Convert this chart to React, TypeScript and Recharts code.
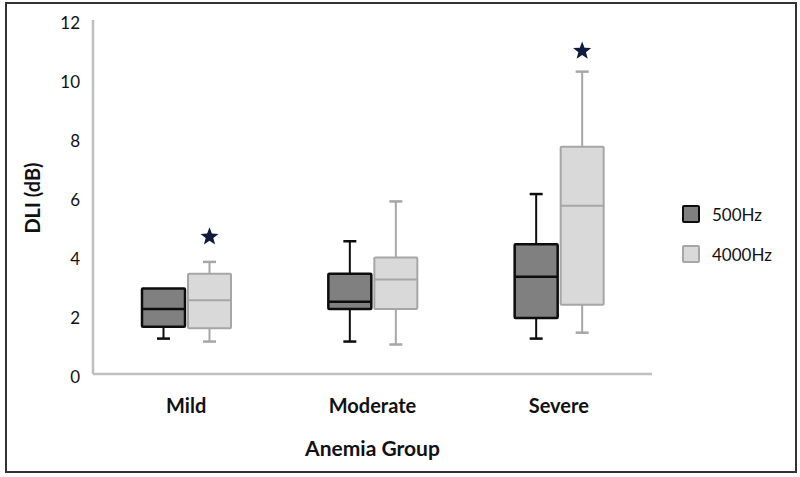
import React from 'react';
import { ComposedChart, Bar, XAxis, YAxis, Legend } from 'recharts';

const categories = ['Mild', 'Moderate', 'Severe'];
const seriesNames = ['500Hz', '4000Hz'];
const min500 = [1.2, 1.1, 1.2];
const q1500 = [1.6, 2.2, 1.9];
const median500 = [2.2, 2.45, 3.3];
const q3500 = [2.9, 3.4, 4.4];
const max500 = [2.9, 4.5, 6.1];
const min4000 = [1.1, 1.0, 1.4];
const q14000 = [1.55, 2.2, 2.35];
const median4000 = [2.5, 3.2, 5.7];
const q34000 = [3.4, 3.95, 7.7];
const max4000 = [3.8, 5.85, 10.25];
const star4000: (number | null)[] = [4.65, null, 10.95];
const yTicks = [0, 2, 4, 6, 8, 10, 12];

const data = categories.map((name, i) => ({
  name,
  range500: [min500[i], max500[i]],
  range4000: [min4000[i], max4000[i]],
  s500: { min: min500[i], q1: q1500[i], med: median500[i], q3: q3500[i], max: max500[i], star: null },
  s4000: { min: min4000[i], q1: q14000[i], med: median4000[i], q3: q34000[i], max: max4000[i], star: star4000[i] },
}));

const FONT = 'Lato, "Open Sans", sans-serif';

const styles: Record<string, { fill: string; stroke: string; line: string; boxW: number }> = {
  '500Hz': { fill: '#808080', stroke: '#0d0d0d', line: '#0d0d0d', boxW: 2.5 },
  '4000Hz': { fill: '#d9d9d9', stroke: '#a6a6a6', line: '#a6a6a6', boxW: 2 },
};

function starPoints(cx: number, cy: number, ro: number, ri: number) {
  const pts: string[] = [];
  for (let k = 0; k < 10; k++) {
    const r = k % 2 === 0 ? ro : ri;
    const a = -Math.PI / 2 + (k * Math.PI) / 5;
    pts.push(`${cx + r * Math.cos(a)},${cy + r * Math.sin(a)}`);
  }
  return pts.join(' ');
}

const makeBox = (statKey: 's500' | 's4000', seriesName: string) => (props: any) => {
  const { x, y, width, height, payload } = props;
  const s = payload[statKey];
  const st = styles[seriesName];
  const top = Math.min(y, y + height);
  const bot = Math.max(y, y + height);
  const span = s.max - s.min;
  const py = (v: number) => bot - ((v - s.min) / span) * (bot - top);
  const cx = x + width / 2;
  const cap = 6.5;
  return (
    <g>
      {s.max > s.q3 && (
        <>
          <line x1={cx} x2={cx} y1={py(s.max)} y2={py(s.q3)} stroke={st.line} strokeWidth={2} />
          <line x1={cx - cap} x2={cx + cap} y1={py(s.max)} y2={py(s.max)} stroke={st.line} strokeWidth={2.5} />
        </>
      )}
      {s.min < s.q1 && (
        <>
          <line x1={cx} x2={cx} y1={py(s.q1)} y2={py(s.min)} stroke={st.line} strokeWidth={2} />
          <line x1={cx - cap} x2={cx + cap} y1={py(s.min)} y2={py(s.min)} stroke={st.line} strokeWidth={2.5} />
        </>
      )}
      <rect
        x={x}
        y={py(s.q3)}
        width={width}
        height={py(s.q1) - py(s.q3)}
        fill={st.fill}
        stroke={st.stroke}
        strokeWidth={st.boxW}
        rx={1}
      />
      <line x1={x} x2={x + width} y1={py(s.med)} y2={py(s.med)} stroke={st.stroke} strokeWidth={st.boxW} />
      {s.star != null && <polygon points={starPoints(cx, py(s.star), 9.5, 4)} fill="#0f1a3c" />}
    </g>
  );
};

const XTick = (props: any) => {
  const { x, y, payload } = props;
  return (
    <text x={x} y={y + 31} textAnchor="middle" dominantBaseline="central" fontFamily={FONT} fontWeight={700} fontSize={20} fill="#111">
      {payload.value}
    </text>
  );
};

const YTick = (props: any) => {
  const { x, y, payload } = props;
  return (
    <text x={x} y={y + 2.5} textAnchor="end" dominantBaseline="central" fontFamily={FONT} fontSize={17} fill="#111">
      {payload.value}
    </text>
  );
};

const YLabel = (props: any) => {
  const vb = props.viewBox;
  const cx = 32;
  const cy = vb.y + vb.height / 2 + 1;
  return (
    <text
      x={cx}
      y={cy}
      transform={`rotate(-90, ${cx}, ${cy})`}
      textAnchor="middle"
      dominantBaseline="central"
      fontFamily={FONT}
      fontWeight={700}
      fontSize={20}
      fill="#111"
    >
      DLI (dB)
    </text>
  );
};

const XLabel = (props: any) => {
  const vb = props.viewBox;
  return (
    <text
      x={vb.x + vb.width / 2}
      y={vb.y + 73}
      textAnchor="middle"
      dominantBaseline="central"
      fontFamily={FONT}
      fontWeight={700}
      fontSize={21}
      fill="#111"
    >
      Anemia Group
    </text>
  );
};

const LegendContent = (props: any) => {
  const items = [...(props.payload || [])].sort(
    (a: any, b: any) => seriesNames.indexOf(a.value) - seriesNames.indexOf(b.value)
  );
  return (
    <div style={{ fontFamily: FONT, fontSize: 17, color: '#111' }}>
      {items.map((e: any) => {
        const st = styles[e.value];
        return (
          <div key={e.value} style={{ display: 'flex', alignItems: 'center', height: 40 }}>
            <svg width={18} height={18} style={{ display: 'block' }}>
              <rect x={1} y={1} width={16} height={16} fill={st.fill} stroke={st.stroke} strokeWidth={2} rx={1} />
            </svg>
            <span style={{ marginLeft: 12 }}>{e.value}</span>
          </div>
        );
      })}
    </div>
  );
};

export default function App() {
  return (
    <div style={{ position: 'absolute', left: 0, top: 0, width: 800, height: 477, background: '#fff' }}>
      <div
        style={{
          position: 'absolute',
          left: 5,
          top: 2,
          width: 792,
          height: 471,
          boxSizing: 'border-box',
          border: '2px solid #333',
        }}
      />
      <ComposedChart
        width={800}
        height={477}
        data={data}
        margin={{ top: 20, right: 148, bottom: 23, left: 0 }}
        barSize={43}
        barGap={3}
      >
        <XAxis
          dataKey="name"
          height={80}
          tickLine={false}
          tickSize={0}
          tickMargin={0}
          axisLine={{ stroke: '#bfbfbf', strokeWidth: 2.5 }}
          tick={<XTick />}
          label={<XLabel />}
          interval={0}
        />
        <YAxis
          width={93}
          domain={[0, 12]}
          ticks={yTicks}
          tickLine={false}
          tickSize={0}
          tickMargin={13}
          axisLine={{ stroke: '#bfbfbf', strokeWidth: 2.5 }}
          tick={<YTick />}
          label={<YLabel />}
        />
        <Legend
          layout="vertical"
          align="center"
          verticalAlign="middle"
          content={<LegendContent />}
          wrapperStyle={{ left: 682, top: 194, width: 100, height: 80 }}
        />
        <Bar dataKey="range500" name="500Hz" fill="#808080" isAnimationActive={false} shape={makeBox('s500', '500Hz')} />
        <Bar dataKey="range4000" name="4000Hz" fill="#d9d9d9" isAnimationActive={false} shape={makeBox('s4000', '4000Hz')} />
      </ComposedChart>
    </div>
  );
}
